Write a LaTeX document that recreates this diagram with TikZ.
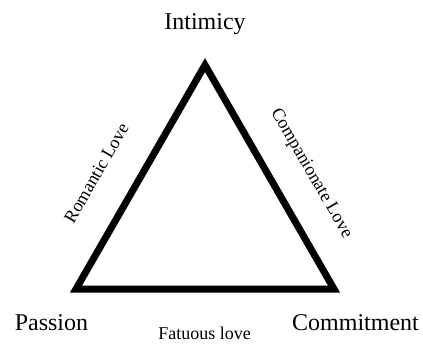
\documentclass[tikz,border=0pt]{standalone}
\usepackage{fontspec}
\setmainfont{Liberation Serif}
\usetikzlibrary{positioning}
\tikzset{
  corner/.style={font=\fontsize{12}{14}\selectfont, anchor=base, inner sep=0pt},
  sidelabel/.style={font=\fontsize{9}{11}\selectfont, inner sep=0pt},
  triangle/.style={draw=black, line width=3.5pt, line join=miter},
}
\begin{document}
\begin{tikzpicture}[x=0.5pt, y=-0.5pt]
\useasboundingbox (0,0) rectangle (423,345);

%% ─── TRIANGLE ──────────────────────────────────────────────
\coordinate (apex) at (205,65);
\coordinate (lcorner) at (76,289);
\coordinate (rcorner) at (334,289);
\draw[triangle] (apex) -- (lcorner) -- (rcorner) -- cycle;

%% ─── CORNERS ───────────────────────────────────────────────
\node[corner] (intimicy) at (205,29) {Intimicy};
\node[corner] (passion) at (51.5,330) {Passion};
\node[corner] (commitment) at (355.5,330) {Commitment};

%% ─── SIDES ─────────────────────────────────────────────────
\node[sidelabel, rotate=60] (romantic) at (96.5,173) {Romantic Love};
\node[sidelabel, rotate=-60] (companionate) at (311,173.5) {Companionate Love};
\node[sidelabel, anchor=base] (fatuous) at (204.5,339) {Fatuous love};

\end{tikzpicture}
\end{document}
